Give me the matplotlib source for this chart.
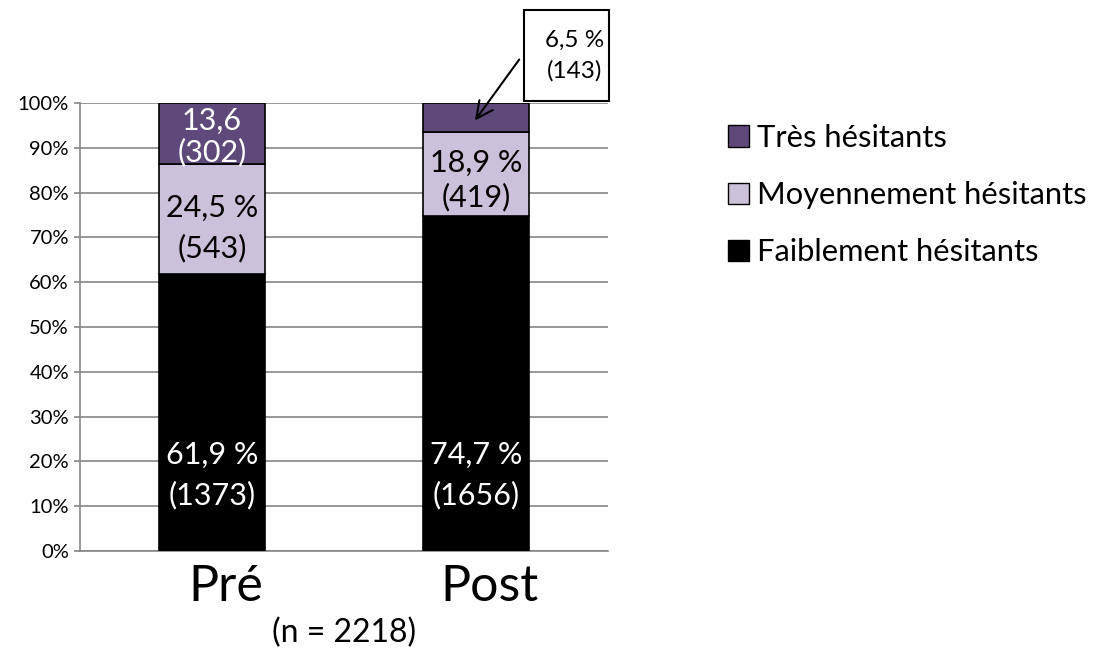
import numpy as np
import matplotlib
matplotlib.use("Agg")
import matplotlib.pyplot as plt
import matplotlib.transforms as mtransforms
from matplotlib.patches import Rectangle, Patch

plt.rcParams['font.family'] = ['Lato', 'DejaVu Sans']

groupes = ["Pré", "Post"]
faible = [61.9, 74.7]
moyen = [24.5, 18.9]
tres = [13.6, 6.5]
n_faible = [1373, 1656]
n_moyen = [543, 419]
n_tres = [302, 143]
series = ["Très hésitants", "Moyennement hésitants", "Faiblement hésitants"]

c_tres = "#5f497a"
c_moyen = "#ccc1da"
c_faible = "#000000"
gris = "#868686"


def draw():
	fig = plt.figure(figsize=(10.98, 6.56), dpi=100)
	ax = fig.add_axes([0.0729, 0.160, 0.4808, 0.683])
	x = np.arange(len(groupes))
	w = 0.4

	ax.bar(x, faible, w, color=c_faible, edgecolor="black", linewidth=1.2, zorder=3)
	ax.bar(x, moyen, w, bottom=faible, color=c_moyen, edgecolor="black", linewidth=1.2, zorder=3)
	bas = np.array(faible) + np.array(moyen)
	ax.bar(x, tres, w, bottom=bas, color=c_tres, edgecolor="black", linewidth=1.2, zorder=3)

	ax.set_xlim(-0.5, 1.5)
	ax.set_ylim(0, 100)
	ax.set_yticks(np.arange(0, 101, 10))
	ax.set_yticklabels([f"{v}%" for v in range(0, 101, 10)], fontsize=14.5)
	ax.yaxis.grid(True, color=gris, linewidth=1.2, zorder=0)
	ax.tick_params(axis="y", direction="out", length=4, color=gris, width=1.2, pad=4)
	ax.set_xticks(x)
	ax.set_xticklabels(groupes, fontsize=36)
	ax.tick_params(axis="x", length=0, pad=9)
	decal = mtransforms.ScaledTranslation(14 / 100, 0, fig.dpi_scale_trans)
	for lab in ax.get_xticklabels():
		lab.set_transform(lab.get_transform() + decal)
	for s in ["top", "right"]:
		ax.spines[s].set_visible(False)
	for s in ["left", "bottom"]:
		ax.spines[s].set_color(gris)
		ax.spines[s].set_linewidth(1.2)

	# étiquettes dans les barres
	for i in range(len(groupes)):
		ax.text(x[i], 17, f"{faible[i]:.1f} %\n({n_faible[i]})".replace(".", ","),
		        ha="center", va="center", color="white", fontsize=22, zorder=4, linespacing=1.5)
	ax.text(x[0], 72, f"{moyen[0]:.1f} %\n({n_moyen[0]})".replace(".", ","),
	        ha="center", va="center", color="black", fontsize=22, zorder=4, linespacing=1.5)
	ax.text(x[1], 82.7, f"{moyen[1]:.1f} %\n({n_moyen[1]})".replace(".", ","),
	        ha="center", va="center", color="black", fontsize=22, zorder=4, linespacing=1.25)
	ax.text(x[0], 92.5, f"{tres[0]:.1f}\n({n_tres[0]})".replace(".", ","),
	        ha="center", va="center", color="white", fontsize=22, zorder=4, linespacing=1.12)

	# encadré pour Post / très hésitants
	ax.add_patch(Rectangle((1.182, 100.4), 0.322, 20.4, facecolor="white", edgecolor="black",
	                       linewidth=1.5, clip_on=False, zorder=5))
	ax.text(1.372, 110.6, f"{tres[1]:.1f} %\n({n_tres[1]})".replace(".", ","),
	        ha="center", va="center", fontsize=17.5, zorder=6, linespacing=1.5)
	ax.annotate("", xy=(0.99, 95.6), xytext=(1.17, 110.2),
	            arrowprops=dict(arrowstyle="->", color="black", lw=1.5, mutation_scale=30),
	            annotation_clip=False, zorder=6)

	fig.text(0.3133, 0.035, "(n = 2218)", ha="center", va="center", fontsize=23)

	handles = [Patch(facecolor=c_tres, edgecolor="black"),
	           Patch(facecolor=c_moyen, edgecolor="black"),
	           Patch(facecolor=c_faible, edgecolor="black")]
	fig.legend(handles, series, loc="upper left", bbox_to_anchor=(0.652, 0.83), frameon=False,
	           fontsize=22.2, handlelength=0.68, handleheight=0.68, handletextpad=0.25,
	           labelspacing=0.95, borderaxespad=0)

	fig.savefig("out.png", dpi=100)


if __name__ == "__main__":
	draw()
